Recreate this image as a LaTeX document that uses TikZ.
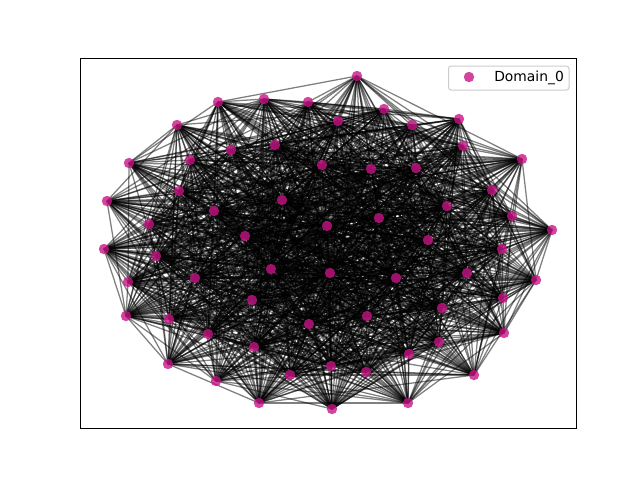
\documentclass[tikz,border=0pt]{standalone}
\usepackage{fontspec}
\setmainfont{DejaVu Sans}
\usepackage{xcolor}
\usepackage{tikz}
\usetikzlibrary{backgrounds}
\usetikzlibrary{calc}

\definecolor{domain}{RGB}{199,21,133}
\definecolor{legendgray}{RGB}{204,204,204}

\tikzset{
  dot/.style={circle, fill=domain, fill opacity=0.8, draw=none, inner sep=0pt, minimum size=7.8pt},
  edge/.style={black, draw opacity=0.5, line width=0.95pt},
  frame/.style={black, line width=0.75pt},
  legendbox/.style={draw=legendgray, fill=white, fill opacity=0.8, rounded corners=2pt, line width=0.75pt}
}

\begin{document}
\begin{tikzpicture}[x=0.75pt, y=-0.75pt]

      \useasboundingbox (0,0) rectangle (640,480);

      % nodes of the graph, with a weight that drops towards the rim
      \foreach \x/\y [count=\k] in {357/76, 264/99, 308/102, 384/109, 338/121, 412/125,
          218/102, 177/125, 459/119, 463/146, 231/150, 190/160, 129/163, 275/145,
          322/165, 371/169, 416/168, 522/159, 492/190, 179/191, 107/201, 282/200,
          214/211, 447/206, 512/216, 149/224, 379/218, 327/226, 552/230, 245/236,
          428/240, 104/249, 502/249, 156/256, 271/269, 330/273, 396/278, 467/273,
          195/278, 536/280, 128/282, 503/298, 252/300, 442/308, 126/316, 169/319,
          367/316, 309/324, 208/334, 504/333, 439/342, 254/347, 409/354, 168/364,
          331/366, 366/372, 290/375, 474/375, 216/381, 259/403, 332/409, 408/403}{
        \node[dot] (n\k) at (\x, \y) {};
        \pgfmathsetmacro\wt{1 - 0.24*(((\x-328)/224)^2 + ((\y-242)/167)^2)}
        \expandafter\xdef\csname w\k\endcsname{\wt}
      }

      % edges
      \pgfmathsetseed{4711}
      \begin{scope}[on background layer]
        \foreach \i in {1, ..., 61}{
          \pgfmathtruncatemacro\jstart{\i + 1}
          \foreach \j in {\jstart, ..., 62}{
            \pgfmathsetmacro\p{\csname w\i\endcsname*\csname w\j\endcsname}
            \pgfmathsetmacro\r{rnd}
            \ifdim\r pt<\p pt
              \draw[edge] (n\i.center) -- (n\j.center);
            \fi
          }
        }
      \end{scope}

      % axes
      \draw[frame] (80, 58) rectangle (576, 428);

      % legend
      \draw[legendbox] (448.5, 66) rectangle (569, 90);
      \node[dot] (mark) at (469, 77) {};
      \node[anchor=base west, inner sep=0pt, font=\fontsize{10.4}{12}\selectfont] (label) at (494, 81) {Domain\_0};

    \end{tikzpicture}
\end{document}
